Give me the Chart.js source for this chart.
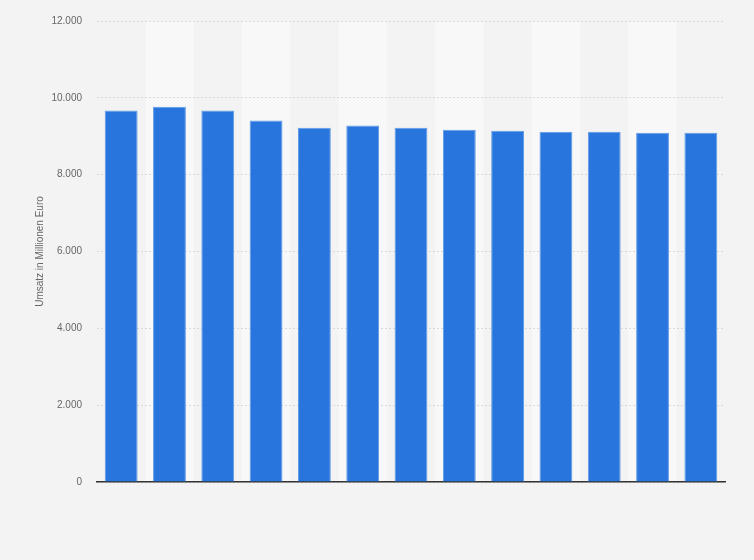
<!DOCTYPE html>
<html>
<head>
<meta charset="utf-8">
<script src="https://cdn.jsdelivr.net/npm/chart.js@4"></script>
<style>
  html, body { margin: 0; padding: 0; background: #f3f3f3; }
  #wrap { width: 754px; height: 560px; }
</style>
</head>
<body>
<div id="wrap"><canvas id="revenueChart" width="754" height="560"></canvas></div>
<script>
// Umsatz in Millionen Euro (x labels are not shown in the picture)
const categories = ['1', '2', '3', '4', '5', '6', '7', '8', '9', '10', '11', '12', '13'];
const revenue = [9670, 9770, 9670, 9410, 9220, 9280, 9220, 9170, 9140, 9115, 9115, 9090, 9090];
const yTicks = [0, 2000, 4000, 6000, 8000, 10000, 12000];

// light stripes behind every second column
const stripes = {
    id: 'stripes',
    beforeDraw(chart) {
        const { ctx, chartArea, scales } = chart;
        const x = scales.x;
        const step = x.getPixelForValue(1) - x.getPixelForValue(0);
        ctx.save();
        ctx.fillStyle = '#f8f8f8';
        categories.forEach((c, i) => {
            if (i % 2 === 1) {
                const cx = x.getPixelForValue(i);
                ctx.fillRect(cx - step / 2, chartArea.top, step, chartArea.bottom - chartArea.top);
            }
        });
        ctx.restore();
    }
};

const fmt = v => v.toLocaleString('de-DE');

new Chart(document.getElementById('revenueChart').getContext('2d'), {
    type: 'bar',
    data: {
        labels: categories,
        datasets: [{
            label: 'Umsatz',
            data: revenue,
            backgroundColor: '#2876dd',
            borderColor: '#5f9ae6',
            borderWidth: 1,
            borderSkipped: 'bottom',
            barPercentage: 0.68,
            categoryPercentage: 1
        }]
    },
    options: {
        responsive: false,
        animation: false,
        layout: { padding: { top: 20, right: 29, bottom: 70, left: 0 } },
        plugins: {
            legend: { display: false },
            tooltip: { enabled: false }
        },
        scales: {
            x: {
                grid: { display: false },
                border: { display: true, color: '#333333', width: 1.5 },
                ticks: { display: false }
            },
            y: {
                min: 0,
                max: 12000,
                afterBuildTicks(scale) {
                    scale.ticks = yTicks.map(v => ({ value: v }));
                },
                afterFit(scale) { scale.width = 97; },
                grid: { color: '#d9d9d9', lineWidth: 1, drawTicks: false },
                border: { display: false, dash: [2, 2] },
                ticks: {
                    padding: 15,
                    color: '#666666',
                    font: { family: 'Arial, "Liberation Sans", sans-serif', size: 10 },
                    callback: v => fmt(v)
                },
                title: {
                    display: true,
                    text: 'Umsatz in Millionen Euro',
                    color: '#666666',
                    padding: { top: 34, bottom: 0 },
                    font: { family: 'Arial, "Liberation Sans", sans-serif', size: 10 }
                }
            }
        }
    },
    plugins: [stripes]
});
</script>
</body>
</html>
